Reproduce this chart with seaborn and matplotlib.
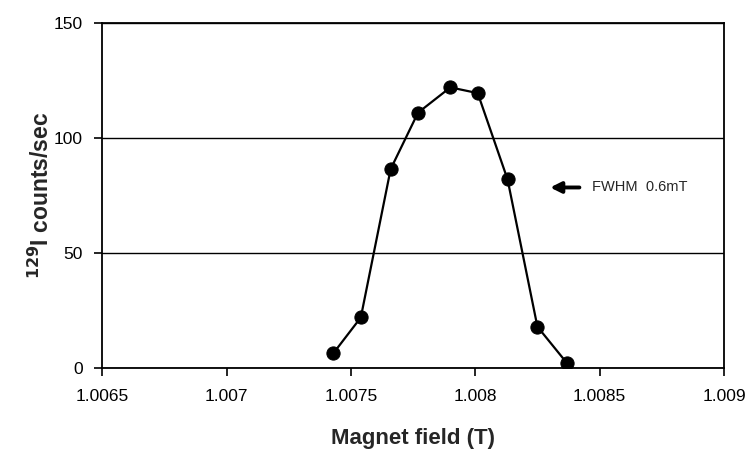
import matplotlib
matplotlib.use("Agg")
import matplotlib.pyplot as plt
import seaborn as sns

# magnet field scan of 129I
field = [1.00743, 1.00754, 1.00766, 1.00777, 1.00790, 1.00801, 1.00813, 1.00825, 1.00837]
counts = [6.5, 22, 86.5, 111, 122, 119.5, 82, 18, 2]

x_ticks = [1.0065, 1.007, 1.0075, 1.008, 1.0085, 1.009]
x_labels = ["1.0065", "1.007", "1.0075", "1.008", "1.0085", "1.009"]
y_ticks = [0, 50, 100, 150]

sns.set_style("white")
plt.rcParams['font.family'] = ['Liberation Sans', 'DejaVu Sans']

fig = plt.figure(figsize=(7.51, 4.5), dpi=100)
ax = fig.add_axes([0.136, 0.182, 0.828, 0.767])

sns.lineplot(x=field, y=counts, ax=ax, color="black", linewidth=1.6,
             marker="o", markersize=9.5, markeredgecolor="black")

ax.set_xlim(1.0065, 1.009)
ax.set_ylim(0, 150)
ax.set_xticks(x_ticks)
ax.set_xticklabels(x_labels)
ax.set_yticks(y_ticks)
ax.yaxis.grid(True, color="black", linewidth=1)
ax.set_axisbelow(True)
for s in ax.spines.values():
    s.set_color("black")
    s.set_linewidth(1.3)
ax.tick_params(axis="both", direction="out", length=6, width=1.2, color="black",
               labelsize=12.5, labelcolor="black", bottom=True, left=True)
ax.tick_params(axis="x", pad=9)
ax.tick_params(axis="y", pad=8)

ax.set_xlabel("Magnet field (T)", fontsize=16, fontweight="bold", labelpad=17)
ax.set_ylabel("$\\mathbf{^{129}}$I counts/sec", fontsize=16.5, fontweight="bold")
ax.yaxis.set_label_coords(-0.078, 0.5)

ax.annotate("", xy=(1.00829, 78.5), xytext=(1.00843, 78.5),
            arrowprops=dict(arrowstyle="-|>", color="black", lw=2.8, mutation_scale=16))
ax.text(1.00847, 78.5, "FWHM  0.6mT", fontsize=10.5, va="center", ha="left")

fig.savefig("out.png", dpi=100)
